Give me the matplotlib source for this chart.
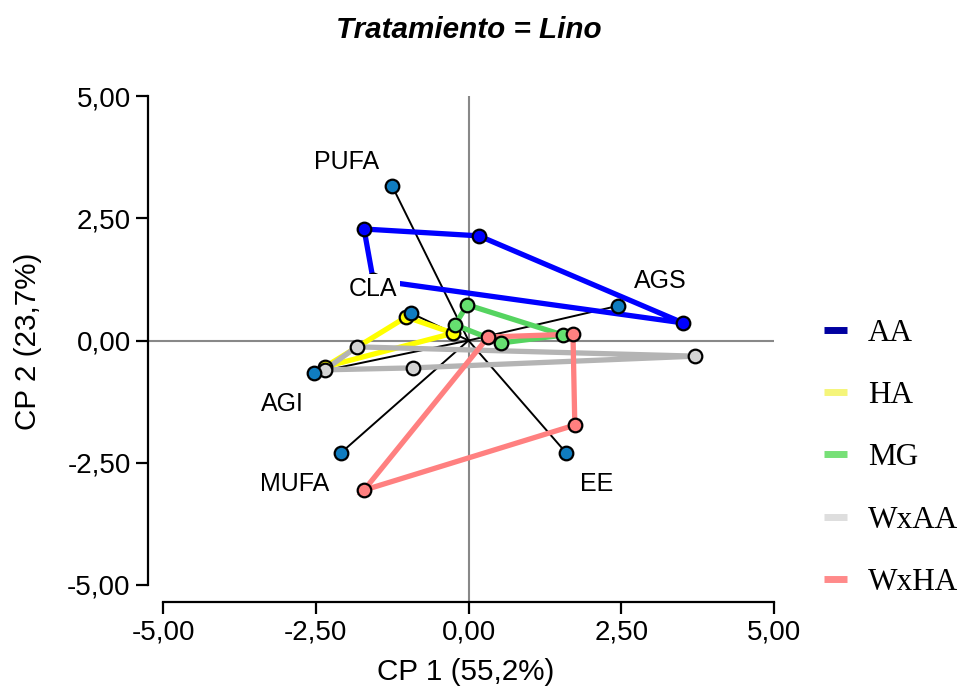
import matplotlib
matplotlib.use('Agg')
import matplotlib.pyplot as plt
from matplotlib.lines import Line2D

# loading vectors (variables)
var_names = ['PUFA', 'CLA', 'AGS', 'AGI', 'MUFA', 'EE']
var_x = [-1.25, -0.94, 2.45, -2.53, -2.09, 1.60]
var_y = [3.16, 0.56, 0.71, -0.66, -2.30, -2.30]
label_x = [-2.00, -1.56, 3.14, -3.05, -2.84, 2.09]
label_y = [3.65, 1.05, 1.21, -1.30, -2.94, -2.94]

# group polygons (scores)
groups = ['AA', 'HA', 'MG', 'WxAA', 'WxHA']
aa_x = [-1.71, 0.17, 3.51, -1.56]
aa_y = [2.28, 2.14, 0.36, 1.24]
ha_x = [-1.02, -0.25, -2.35]
ha_y = [0.48, 0.15, -0.54]
mg_x = [-0.02, 1.55, 0.53, -0.22]
mg_y = [0.73, 0.11, -0.05, 0.32]
wxaa_x = [-1.83, 3.71, -0.91, -2.35]
wxaa_y = [-0.13, -0.32, -0.56, -0.60]
wxha_x = [0.32, 1.71, 1.74, -1.71]
wxha_y = [0.07, 0.13, -1.73, -3.06]

group_x = [aa_x, ha_x, mg_x, wxaa_x, wxha_x]
group_y = [aa_y, ha_y, mg_y, wxaa_y, wxha_y]
line_colors = ['#0000ff', '#ffff00', '#55d460', '#b4b4b4', '#ff8080']
marker_colors = ['#0000ff', '#ffff00', '#66e070', '#d4d4d4', '#ff8080']
legend_colors = ['#0000a0', '#f5f57a', '#77e077', '#dedede', '#ff8a8a']

ticks = [-5, -2.5, 0, 2.5, 5]

fig = plt.figure(figsize=(9.63, 6.95), dpi=100)
ax = fig.add_axes([148 / 963, 1 - 602 / 695, (774 - 148) / 963, (602 - 96) / 695])
ax.set_xlim(-5 - 15 / 61.1, 5)
ax.set_ylim(-5 - 17 / 48.9, 5)

ax.axhline(0, color='#888888', lw=1.5, zorder=1)
ax.axvline(0, color='#888888', lw=1.5, zorder=1)

for vx, vy in zip(var_x, var_y):
    ax.plot([0, vx], [0, vy], color='black', lw=1.4, zorder=2)

for gx, gy, lc, mc in zip(group_x, group_y, line_colors, marker_colors):
    ax.plot(gx + gx[:1], gy + gy[:1], color=lc, lw=3.8, zorder=3,
            solid_joinstyle='miter')
    ax.plot(gx, gy, 'o', color=mc, markeredgecolor='black', markeredgewidth=1.6,
            markersize=9.8, zorder=4)

ax.plot(var_x, var_y, 'o', color='#107cbf', markeredgecolor='black',
        markeredgewidth=1.6, markersize=9.8, zorder=5)

for name, lx, ly in zip(var_names, label_x, label_y):
    bbox = None
    if name == 'CLA':
        bbox = dict(facecolor='white', edgecolor='none', pad=2)
    ax.text(lx, ly, name, ha='center', va='center', fontsize=18,
            family='Liberation Sans', zorder=6, bbox=bbox)

for s in ['top', 'right']:
    ax.spines[s].set_visible(False)
for s in ['left', 'bottom']:
    ax.spines[s].set_linewidth(1.6)
    ax.spines[s].set_bounds(-5, 5)

ax.set_xticks(ticks)
ax.set_yticks(ticks)
ax.set_xticklabels([f'{t:.2f}'.replace('.', ',') for t in ticks])
ax.set_yticklabels([f'{t:.2f}'.replace('.', ',') for t in ticks])
ax.tick_params(length=8.5, width=1.6, labelsize=20, pad=4)
for lab in ax.get_xticklabels() + ax.get_yticklabels():
    lab.set_family('Liberation Sans')

fig.text(468.5 / 963, 1 - 30 / 695, 'Tratamiento = Lino', ha='center', va='center',
         fontsize=21.3, fontweight='bold', fontstyle='italic', family='Liberation Sans')
fig.text(466 / 963, 1 - 672 / 695, 'CP 1 (55,2%)', ha='center', va='center',
         fontsize=21.3, family='Liberation Sans')
fig.text(28 / 963, 1 - 341 / 695, 'CP 2 (23,7%)', ha='center', va='center',
         fontsize=21.3, family='Liberation Sans', rotation=90)

handles = [Line2D([0], [0], color=c, lw=5, solid_capstyle='butt') for c in legend_colors]
ax.legend(handles, groups, loc='upper left', bbox_to_anchor=(811.5 / 963, 1 - 306 / 695),
          bbox_transform=fig.transFigure, frameon=False, handlelength=0.74,
          handletextpad=0.67, labelspacing=1.07, borderaxespad=0, borderpad=0.4,
          prop={'family': 'Liberation Serif', 'size': 22.5})

fig.savefig('out.png', dpi=100)
